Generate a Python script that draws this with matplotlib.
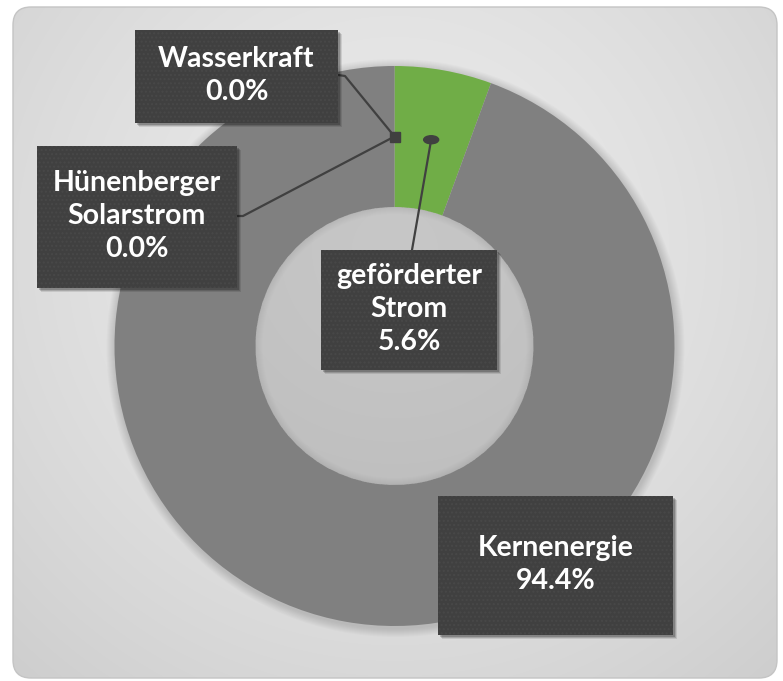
import numpy as np
import matplotlib.pyplot as plt
from matplotlib.patches import FancyBboxPatch, Rectangle, Ellipse, Circle, Wedge

# data (clockwise from 12 o'clock)
labels = ['geförderter\nStrom', 'Kernenergie', 'Wasserkraft', 'Hünenberger\nSolarstrom']
shares = [5.6, 94.4, 0.0, 0.0]
colors = ['#70ad47', '#808080', '#5b9bd5', '#ffc000']

W, H = 783, 681
fig = plt.figure(figsize=(W / 100, H / 100), dpi=100)
ax = fig.add_axes([0, 0, 1, 1])

# pie geometry in pixel units (y up)
cx, cy = 394.5, H - 346
r_out, r_in = 280, 139

# background panel with radial gradient
panel = FancyBboxPatch((13, 3), 764, 671, boxstyle='round,pad=0,rounding_size=18',
                       facecolor='none', edgecolor='#c4c4c4', linewidth=1.0, zorder=1)
ax.add_patch(panel)
yy, xx = np.mgrid[0:H, 0:W]
d = np.hypot(xx - cx, yy - 250) / 560.0
g = np.clip(0.92 - 0.11 * d ** 1.5, 0, 1)
img = ax.imshow(np.dstack([g, g, g]), extent=(0, W, 0, H), origin='upper', zorder=0.5)
img.set_clip_path(panel)

# soft shadow around the ring
for k in range(1, 10):
    ax.add_patch(Circle((cx + 1, cy - 2), r_out + k, color='black', alpha=0.014, lw=0, zorder=1.5))

wedges, _ = ax.pie(shares, colors=colors, startangle=90, counterclock=False,
                   center=(cx, cy), radius=r_out,
                   wedgeprops=dict(width=r_out - r_in, linewidth=0))
for w in wedges:
    w.set_zorder(2)

# faint inner shadow inside the hole
for k in range(1, 8):
    ax.add_patch(Wedge((cx, cy), r_in, 0, 360, width=k, color='black', alpha=0.007,
                       lw=0, zorder=2.1))

ax.set_xlim(0, W)
ax.set_ylim(0, H)
ax.set_aspect('equal')
ax.axis('off')

# anchor points at the middle of each slice
r_mid = (r_out + r_in) / 2
anchors = []
for w in wedges:
    a = np.deg2rad((w.theta1 + w.theta2) / 2)
    anchors.append((cx + r_mid * np.cos(a), cy + r_mid * np.sin(a)))

# label boxes: (x0, y_top, width, height) in screen pixels
boxes = [(321, 250, 176, 120), (438, 496, 235, 139), (135, 30, 203, 93), (37, 146, 200, 142)]
texts = [f'{lab}\n{v:.1f}%' for lab, v in zip(labels, shares)]

for (bx, by, bw, bh), txt in zip(boxes, texts):
    y0 = H - by - bh
    for k, al in [(4, 0.10), (3, 0.15), (2, 0.2)]:
        ax.add_patch(Rectangle((bx + k, y0 - k), bw, bh, facecolor='black', alpha=al,
                               lw=0, zorder=4.8))
    ax.add_patch(Rectangle((bx, y0), bw, bh, facecolor='#404040', edgecolor='#484848',
                           hatch='....', linewidth=0, zorder=5))
    ax.text(bx + bw / 2, y0 + bh / 2 + 1, txt, ha='center', va='center', color='white',
            fontsize=20.5, fontweight='bold', family='Lato', linespacing=1.33, zorder=6)

# leader lines
lc = '#404040'
ax_, ay_ = anchors[2]
ax.plot([338, 345, ax_], [H - 75, H - 76, ay_], color=lc, lw=1.6, zorder=4)
hx, hy = anchors[3]
ax.plot([237, 243, hx], [H - 216, H - 216, hy], color=lc, lw=1.6, zorder=4)
ax.plot(hx, hy, marker='s', ms=6.5, color=lc, zorder=4)
gx, gy = anchors[0]
ax.plot([412, gx], [H - 250, gy], color=lc, lw=1.6, zorder=4)
ax.add_patch(Ellipse((gx, gy), 15, 8, color=lc, zorder=4))

fig.savefig('out.png', dpi=100)
